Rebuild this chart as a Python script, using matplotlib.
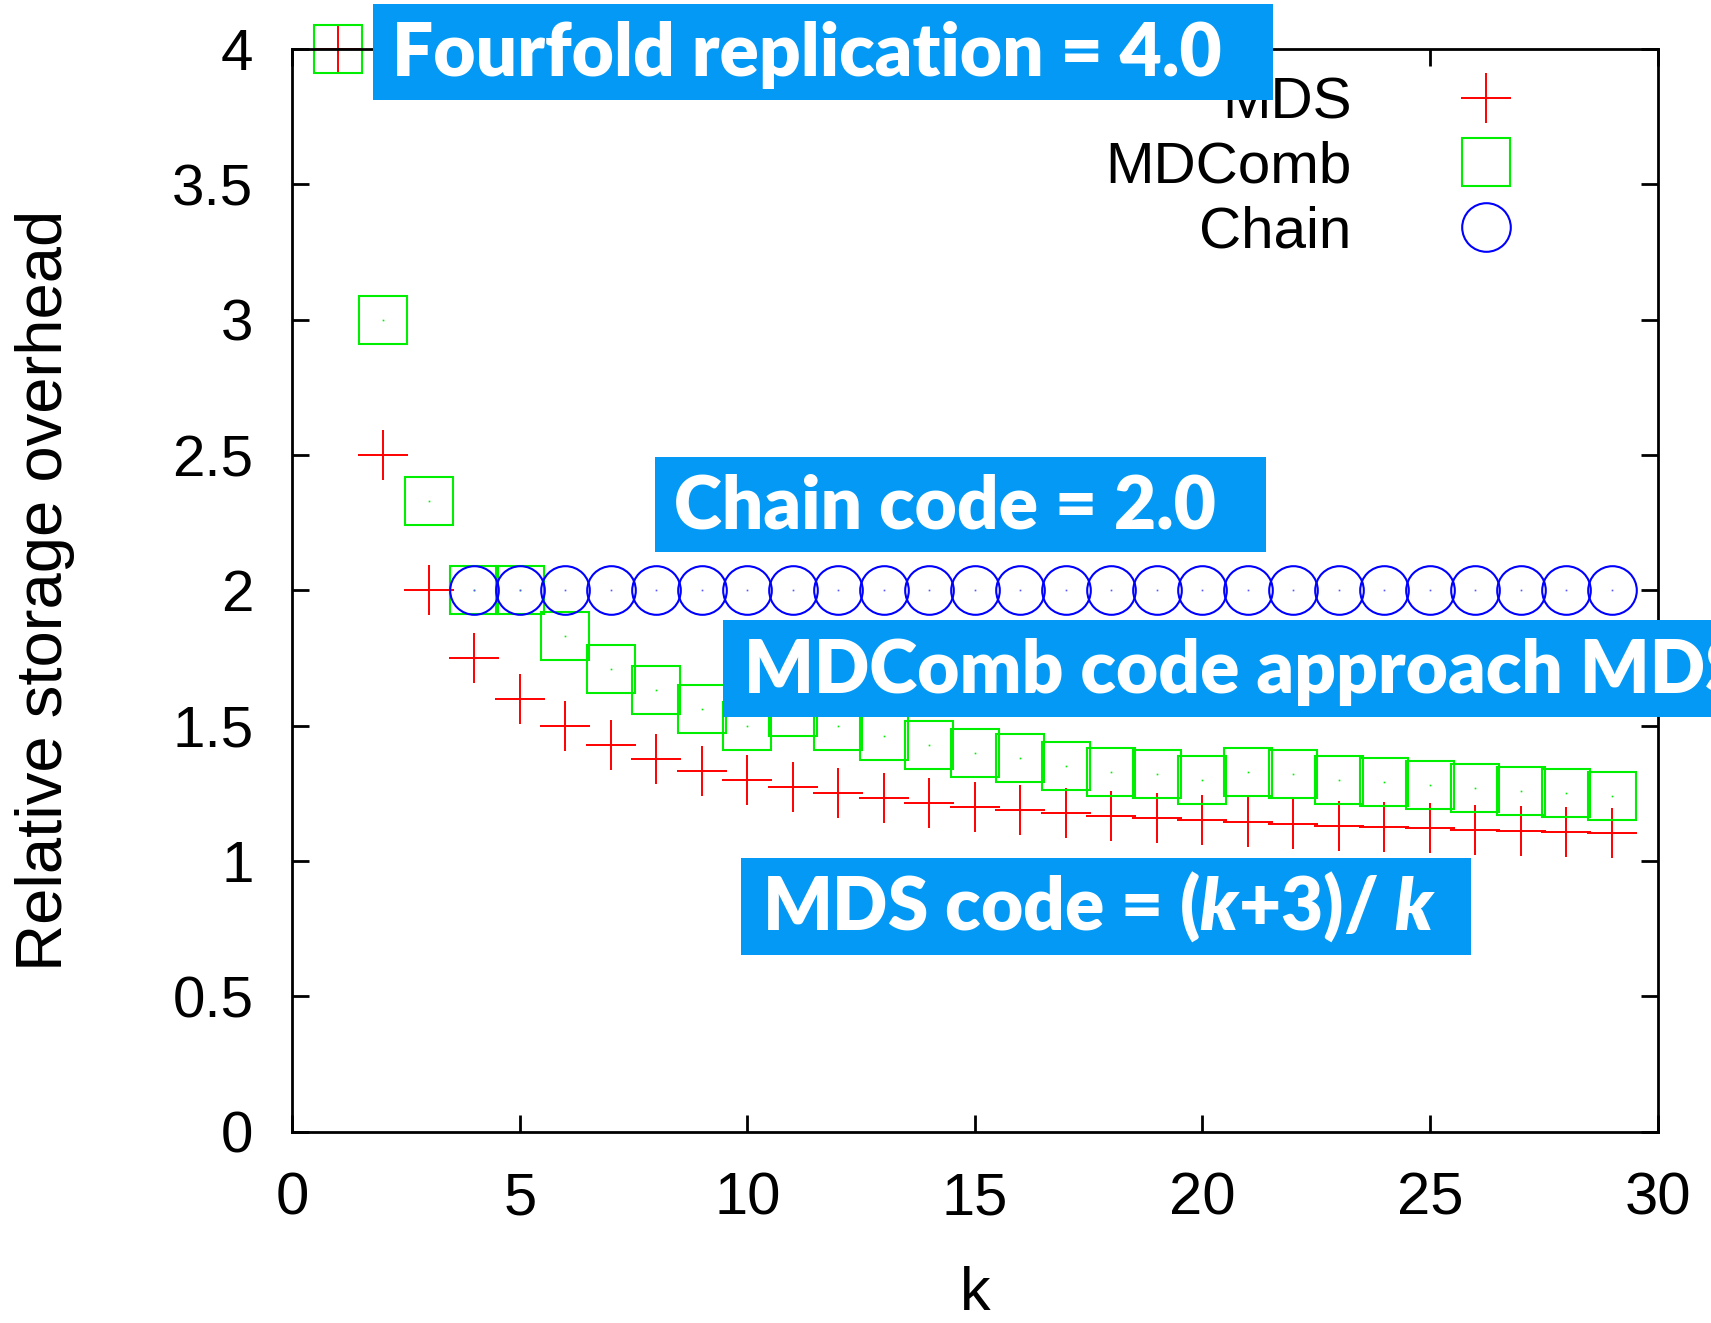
import matplotlib
matplotlib.use("Agg")
import matplotlib.pyplot as plt
from matplotlib.patches import Rectangle

# storage overhead per scheme, k = number of data blocks
k_values = list(range(1, 30))
mds_overhead = [4.0, 2.5, 2.0, 1.75, 1.6, 1.5, 1.43, 1.375, 1.333, 1.3,
                1.273, 1.25, 1.231, 1.214, 1.2, 1.188, 1.176, 1.167, 1.158, 1.15,
                1.143, 1.136, 1.13, 1.125, 1.12, 1.115, 1.111, 1.107, 1.103]
mdcomb_overhead = [4.0, 3.0, 2.33, 2.0, 2.0, 1.83, 1.71, 1.63, 1.56, 1.5,
                   1.55, 1.5, 1.46, 1.43, 1.4, 1.38, 1.35, 1.33, 1.32, 1.3,
                   1.33, 1.32, 1.3, 1.29, 1.28, 1.27, 1.26, 1.25, 1.24]
chain_k = list(range(4, 30))
chain_overhead = [2.0, 2.0, 2.0, 2.0, 2.0, 2.0, 2.0, 2.0, 2.0, 2.0, 2.0, 2.0, 2.0,
                  2.0, 2.0, 2.0, 2.0, 2.0, 2.0, 2.0, 2.0, 2.0, 2.0, 2.0, 2.0, 2.0]

x_ticks = [0, 5, 10, 15, 20, 25, 30]
y_ticks = [0, 0.5, 1, 1.5, 2, 2.5, 3, 3.5, 4]
y_tick_labels = ["0", "0.5", "1", "1.5", "2", "2.5", "3", "3.5", "4"]

callouts = [
    "Fourfold replication = 4.0",
    "Chain code = 2.0",
    "MDComb code approach MDS",
    "MDS code = ($k$+3)/ $k$",
]

W, H = 1711, 1323
BOX_BLUE = "#0399f5"

plt.rcParams["font.family"] = ["Liberation Sans", "DejaVu Sans"]
plt.rcParams["mathtext.fontset"] = "custom"
plt.rcParams["mathtext.it"] = "Lato:italic:heavy"
plt.rcParams["mathtext.rm"] = "Lato:heavy"

fig = plt.figure(figsize=(W / 100, H / 100), dpi=100)
ax = fig.add_axes([292.4 / W, 1 - 1131.6 / H, 1365.1 / W, 1082.5 / H])

mds_line, = ax.plot(k_values, mds_overhead, linestyle="none", marker="+",
                    markersize=36, markeredgewidth=1.4, color="#ff0000",
                    clip_on=False, label="MDS")
mdcomb_line, = ax.plot(k_values, mdcomb_overhead, linestyle="none", marker="s",
                       markersize=35, markeredgewidth=1.5, markerfacecolor="none",
                       markeredgecolor="#00ee00", clip_on=False, label="MDComb")
ax.plot(k_values, mdcomb_overhead, linestyle="none", marker="s", markersize=1.2,
        markeredgewidth=0, color="#00ee00", clip_on=False)
chain_line, = ax.plot(chain_k, chain_overhead, linestyle="none", marker="o",
                      markersize=35, markeredgewidth=1.5, markerfacecolor="none",
                      markeredgecolor="#0000ff", clip_on=False, label="Chain")
ax.plot(chain_k, chain_overhead, linestyle="none", marker="s", markersize=1.2,
        markeredgewidth=0, color="#5555ff", clip_on=False)

ax.set_xlim(0, 30)
ax.set_ylim(0, 4)
ax.set_xticks(x_ticks)
ax.set_yticks(y_ticks)
ax.set_yticklabels(y_tick_labels)
ax.tick_params(direction="in", length=12, width=2, labelsize=42,
               top=True, right=True)
ax.tick_params(axis="x", pad=29, labelsize=43)
ax.tick_params(axis="y", pad=28)
for spine in ax.spines.values():
    spine.set_linewidth(2)

ax.set_xlabel("k", fontsize=44, labelpad=28)
ax.set_ylabel("Relative storage overhead", fontsize=47, labelpad=70)

ax.legend(handles=[mds_line, mdcomb_line, chain_line], loc="upper right",
          bbox_to_anchor=(0.917, 0.975), markerfirst=False, frameon=False,
          fontsize=42, numpoints=1, handlelength=2.0, handletextpad=1.3,
          labelspacing=0.18, borderpad=0, borderaxespad=0)


def px(x, y):
    return x / W, 1 - y / H


# (box left, box top, box right, box bottom, text left, text baseline) in pixels
boxes = [
    (373, 4, 1273, 100, 392, 76),
    (655, 457, 1266, 552, 674, 528),
    (723, 620, 1800, 717, 744, 693),
    (741, 858, 1471, 955, 762, 930),
]
for (x0, y0, x1, y1, tx, ty), label in zip(boxes, callouts):
    fx, fy = px(x0, y1)
    fig.patches.append(Rectangle((fx, fy), (x1 - x0) / W, (y1 - y0) / H,
                                 transform=fig.transFigure, facecolor=BOX_BLUE,
                                 edgecolor="none", zorder=2))
    fig.text(*px(tx, ty), label, color="white", fontsize=52.5, family="Lato",
             fontweight="heavy", ha="left", va="baseline", zorder=3)

fig.savefig("out.png", dpi=100)
